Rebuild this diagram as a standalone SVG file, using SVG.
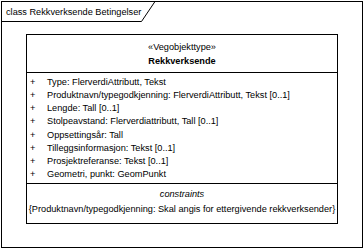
<svg xmlns="http://www.w3.org/2000/svg" width="364" height="249" viewBox="0 0 364 249">
  <style>
    .ln { fill: none; stroke: #000; stroke-width: 1; }
    .t { font-family: "Liberation Sans", Arial, sans-serif; font-size: 9.2px; fill: #000; }
    .b { font-weight: bold; }
    .i { font-style: italic; }
    .c { text-anchor: middle; }
  </style>
  <rect width="364" height="249" fill="#fff"/>

  <!-- diagram frame with name tab -->
  <g id="frame">
    <rect class="ln" x="1.5" y="1.5" width="361" height="246"/>
    <path class="ln" d="M1.5 21.5 H141.5 L155 1.5"/>
    <text class="t" x="6" y="14.5" font-size="9">class Rekkverksende Betingelser</text>
  </g>

  <!-- class node -->
  <g id="Rekkverksende">
    <rect class="ln" x="26.5" y="34.5" width="311" height="189"/>
    <line class="ln" x1="26.5" y1="72.5" x2="337.5" y2="72.5"/>
    <line class="ln" x1="26.5" y1="183.5" x2="337.5" y2="183.5"/>
    <text class="t c" x="182" y="50">«Vegobjekttype»</text>
    <text class="t c b" x="182" y="64">Rekkverksende</text>

    <g class="t">
      <text x="30" y="85">+</text><text x="47" y="85">Type: FlerverdiAttributt, Tekst</text>
      <text x="30" y="98">+</text><text x="47" y="98">Produktnavn/typegodkjenning: FlerverdiAttributt, Tekst [0..1]</text>
      <text x="30" y="111">+</text><text x="47" y="111">Lengde: Tall [0..1]</text>
      <text x="30" y="124">+</text><text x="47" y="124">Stolpeavstand: Flerverdiattributt, Tall [0..1]</text>
      <text x="30" y="137.5">+</text><text x="47" y="137.5">Oppsettingsår: Tall</text>
      <text x="30" y="150.5">+</text><text x="47" y="150.5">Tilleggsinformasjon: Tekst [0..1]</text>
      <text x="30" y="163.5">+</text><text x="47" y="163.5">Prosjektreferanse: Tekst [0..1]</text>
      <text x="30" y="177">+</text><text x="47" y="177">Geometri, punkt: GeomPunkt</text>
    </g>

    <text class="t c i" x="182" y="197">constraints</text>
    <text class="t c" x="182" y="211.5">{Produktnavn/typegodkjenning: Skal angis for ettergivende rekkverksender}</text>
  </g>

  <g id="connectors"/>
</svg>
